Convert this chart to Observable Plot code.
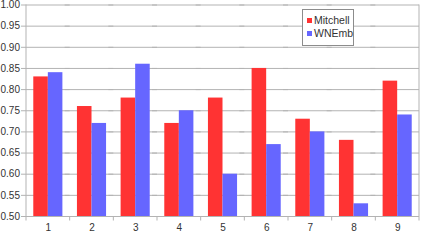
<!DOCTYPE html>
<html><head><meta charset="utf-8">
<script src="https://cdn.jsdelivr.net/npm/d3@7"></script>
<script src="https://cdn.jsdelivr.net/npm/@observablehq/plot@0.6"></script>
<style>
body{margin:0;background:#fff;}
#wrap{position:relative;width:427px;height:240px;font-family:"Liberation Sans",Arial,sans-serif;}
.legend{position:absolute;left:302px;top:9px;width:52px;height:37px;box-sizing:border-box;border:1px solid #8c8c8c;background:#fff;font-size:10.5px;color:#333;padding:4px 0 0 4px;}
.legend .item{display:flex;align-items:center;height:13px;line-height:13px;}
.legend .sw{width:5px;height:5px;margin-right:2px;flex:none;}
</style></head>
<body><div id="wrap"></div>
<script>
const categories = ["1","2","3","4","5","6","7","8","9"];
const series = ["Mitchell","WNEmb"];
const mitchell = [0.83,0.76,0.78,0.72,0.78,0.85,0.73,0.68,0.82];
const wnemb = [0.84,0.72,0.86,0.75,0.60,0.67,0.70,0.53,0.74];
const colors = ["#ff3333","#6666ff"];
const yTicks = [0.50,0.55,0.60,0.65,0.70,0.75,0.80,0.85,0.90,0.95,1.00];
const gridColor = "#b3b3b3";

const rows = categories.flatMap((c,i)=>[
  {cat:c, series:series[0], value:mitchell[i]},
  {cat:c, series:series[1], value:wnemb[i]}
]);
const yMin = yTicks[0], yMax = yTicks[yTicks.length-1];

const chart = Plot.plot({
  width:427, height:240,
  marginLeft:26, marginRight:8, marginTop:4.5, marginBottom:24,
  style:{fontFamily:'"Liberation Sans",Arial,sans-serif', fontSize:"10px", color:"#333", background:"white"},
  facet:{data:rows, x:"cat"},
  fx:{domain:categories, padding:0, round:false, label:null, tickSize:0, tickPadding:7.5, axis:"bottom"},
  x:{domain:series, paddingInner:0, paddingOuter:0.5, round:false, axis:null},
  y:{domain:[yMin,yMax], ticks:yTicks, tickFormat:d3.format(".2f"), tickSize:0, tickPadding:6.5, label:null},
  color:{domain:series, range:colors},
  marks:[
    Plot.ruleY(yTicks, {stroke:gridColor, insetLeft:-5}),
    Plot.barY(rows, {x:"series", y1:yMin, y2:"value", fill:"series"})
  ]
});
document.getElementById("wrap").appendChild(chart);

// axis lines and category-boundary ticks, positioned with the plot's own scales
const sfx = chart.scale("fx"), sy = chart.scale("y");
const fxs = d3.scaleBand().domain(sfx.domain).range(sfx.range);
const ys = d3.scaleLinear().domain(sy.domain).range(sy.range);
const svg = d3.select(chart.tagName.toLowerCase()==="svg" ? chart : chart.querySelector("svg"));
const bounds = categories.map(c=>fxs(c)).concat([fxs(categories[categories.length-1])+fxs.bandwidth()]);
const yTop = ys(yMax), yBot = ys(yMin);
svg.append("g").selectAll("line").data(bounds).join("line")
  .attr("x1",d=>d).attr("x2",d=>d)
  .attr("y1",(d,i)=> (i===0||i===bounds.length-1) ? yTop : yBot)
  .attr("y2",yBot+4.5)
  .attr("stroke",gridColor).attr("stroke-width",1);

// legend
const lg = d3.select("#wrap").append("div").attr("class","legend");
series.forEach((s,i)=>{
  const it = lg.append("div").attr("class","item");
  it.append("div").attr("class","sw").style("background",colors[i]);
  it.append("span").text(s);
});
</script></body></html>
